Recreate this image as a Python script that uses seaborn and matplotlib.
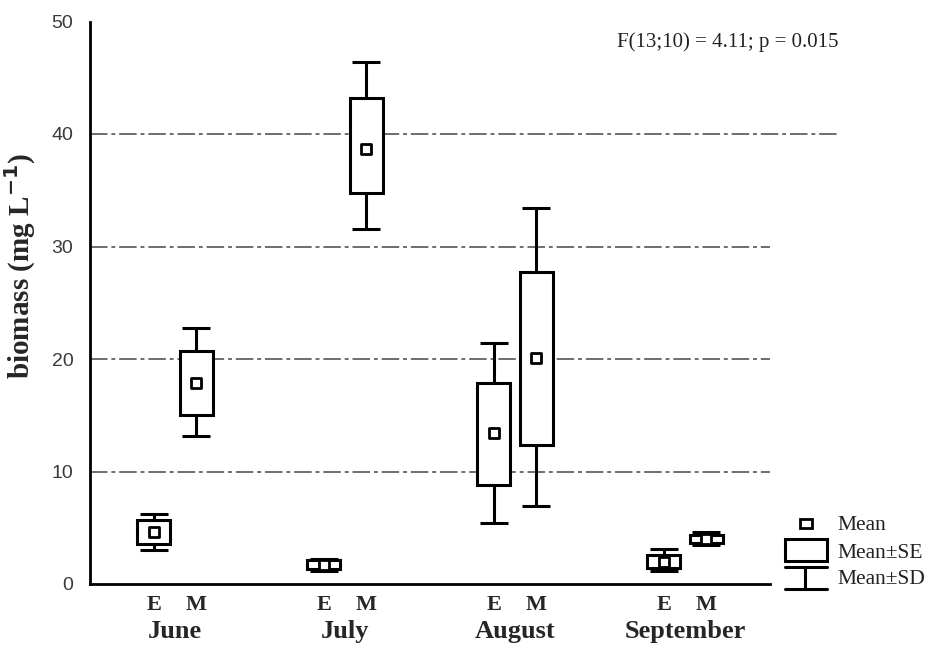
import numpy as np
import pandas as pd
import matplotlib
matplotlib.use("Agg")
import matplotlib.pyplot as plt
import seaborn as sns
from matplotlib.lines import Line2D
from matplotlib.patches import Rectangle

# values (biomass, mg/L)
months = ["June", "July", "August", "September"]
sites = ["E", "M"]
means = [4.6, 17.9, 1.7, 38.7, 13.4, 20.1, 2.0, 4.0]
se_low = [3.6, 15.0, 1.3, 34.8, 8.8, 12.4, 1.4, 3.65]
se_high = [5.7, 20.7, 2.1, 43.2, 17.9, 27.7, 2.6, 4.35]
sd_low = [3.0, 13.2, 1.2, 31.6, 5.4, 6.9, 1.2, 3.5]
sd_high = [6.2, 22.8, 2.2, 46.4, 21.4, 33.4, 3.1, 4.6]
y_ticks = [0, 10, 20, 30, 40, 50]
grid_levels = [10, 20, 30, 40]
stats_note = "F(13;10) = 4.11; p = 0.015"

df = pd.DataFrame({
    "month": np.repeat(months, 2),
    "site": sites * len(months),
    "mean": means,
    "se_lo": se_low,
    "se_hi": se_high,
    "sd_lo": sd_low,
    "sd_hi": sd_high,
})
offset = {"E": -0.124, "M": 0.124}
df["x"] = [months.index(m) + offset[s] for m, s in zip(df["month"], df["site"])]

sns.set_style("white")
serif = ["Liberation Serif", "DejaVu Serif"]
plt.rcParams["font.family"] = ["Liberation Sans", "DejaVu Sans"]

W, H = 929, 653
fig = plt.figure(figsize=(W / 100, H / 100), dpi=100)
ax = fig.add_axes([90 / W, 1 - 584 / H, 680 / W, 562.5 / H])

box_w = 0.195
cap_w = 0.16
lw = 2.2

# dash-dot gridlines
for g in grid_levels:
    ax.axhline(g, color="#6e6e6e", lw=1.4, ls=(0, (9, 2, 2, 2)), zorder=0,
               xmax=1.1 if g == 40 else 1.0, clip_on=False)

# SE boxes
ax.bar(df["x"], df["se_hi"] - df["se_lo"], bottom=df["se_lo"], width=box_w,
       facecolor="white", edgecolor="black", linewidth=lw, zorder=2)
# SD whiskers with caps
ax.vlines(df["x"], df["se_hi"], df["sd_hi"], color="black", lw=lw, zorder=1)
ax.vlines(df["x"], df["sd_lo"], df["se_lo"], color="black", lw=lw, zorder=1)
ax.hlines(df["sd_hi"], df["x"] - cap_w / 2, df["x"] + cap_w / 2, color="black", lw=lw, zorder=1)
ax.hlines(df["sd_lo"], df["x"] - cap_w / 2, df["x"] + cap_w / 2, color="black", lw=lw, zorder=1)

# mean markers
sns.scatterplot(data=df, x="x", y="mean", marker="s", s=60, color="white",
                edgecolor="black", linewidth=2.0, zorder=3, ax=ax, legend=False)

ax.set_xlim(-0.5, 3.5)
ax.set_ylim(0, 50)
ax.set_yticks(y_ticks)
ax.set_yticklabels([str(t) for t in y_ticks], fontsize=14, color="#3a3a3a")
ax.set_xticks([])
ax.tick_params(axis="y", length=0, pad=12)
ax.set_xlabel("")
ax.set_ylabel("biomass (mg L$^{\\mathbf{-1}}$)", fontsize=21, fontweight="bold",
              family=serif)
ax.yaxis.set_label_coords(-0.077, 0.565)
for side in ["top", "right"]:
    ax.spines[side].set_visible(False)
for side in ["left", "bottom"]:
    ax.spines[side].set_linewidth(2.0)
    ax.spines[side].set_color("black")

# category labels below the axis
xt = ax.get_xaxis_transform()
for i, m in enumerate(months):
    for s in sites:
        ax.text(i + offset[s], -0.037, s, transform=xt, ha="center", va="center",
                fontsize=16, fontweight="bold", family=serif)
    ax.text(i, -0.085, m, transform=xt, ha="center", va="center",
            fontsize=19, fontweight="bold", family=serif)

fig.text(617 / W, 1 - 42 / H, stats_note, ha="left", va="center",
         fontsize=15, family=serif, color="#222222")

# legend drawn in figure pixels
def fx(px):
    return px / W

def fy(py):
    return 1 - py / H

fig.add_artist(Rectangle((fx(800), fy(528)), 12 / W, 9 / H, transform=fig.transFigure,
                         facecolor="white", edgecolor="black", lw=2.0))
fig.add_artist(Rectangle((fx(785), fy(561)), 42 / W, 22 / H, transform=fig.transFigure,
                         facecolor="white", edgecolor="black", lw=lw))
fig.add_artist(Line2D([fx(785), fx(827)], [fy(567), fy(567)], transform=fig.transFigure,
                      color="black", lw=lw))
fig.add_artist(Line2D([fx(805), fx(805)], [fy(567), fy(589)], transform=fig.transFigure,
                      color="black", lw=lw))
fig.add_artist(Line2D([fx(785), fx(827)], [fy(589), fy(589)], transform=fig.transFigure,
                      color="black", lw=lw))
for label, py in [("Mean", 526), ("Mean\u00b1SE", 553), ("Mean\u00b1SD", 580)]:
    fig.text(fx(837), fy(py), label, ha="left", va="center", fontsize=15.5,
             family=serif, color="#222222")

fig.savefig("out.png", dpi=100)
